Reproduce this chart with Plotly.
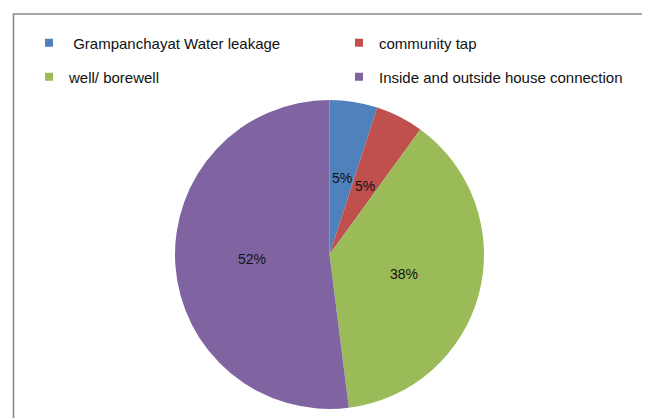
import math
import plotly.graph_objects as go

categories = [" Grampanchayat Water leakage", "community tap", "well/ borewell",
              "Inside and outside house connection"]
values = [5, 5, 38, 52]
colors = ["#4F81BD", "#C0504D", "#9BBB59", "#8064A2"]

W, H = 650, 418
OFF = 8  # page body margin offset
cx, cy, R = 329.5 - OFF, 254.5 - OFF, 154.5

fig = go.Figure()
fig.add_trace(go.Pie(
    labels=categories, values=values, sort=False, direction="clockwise",
    rotation=0, marker=dict(colors=colors, line=dict(width=0)),
    textinfo="none", hoverinfo="label+percent", showlegend=False,
    domain=dict(x=[(cx - R) / W, (cx + R) / W], y=[1 - (cy + R) / H, 1 - (cy - R) / H]),
))

# legend entries (two rows)
for i, (lab, col) in enumerate(zip(categories, colors)):
    fig.add_trace(go.Scatter(
        x=[None], y=[None], mode="markers", name=lab,
        marker=dict(symbol="square", size=8, color=col),
        legend="legend" if i < 2 else "legend2", showlegend=True, hoverinfo="skip",
    ))

# percentage labels at half radius along each slice's mid-angle
total = sum(values)
cum = 0
annotations = []
for v in values:
    mid = (cum + v / 2) / total * 2 * math.pi
    cum += v
    px = cx + 0.5 * R * math.sin(mid)
    py = cy - 0.5 * R * math.cos(mid)
    annotations.append(dict(
        x=px / W, y=1 - py / H, xref="paper", yref="paper",
        text=f"{round(v / total * 100)}%", showarrow=False,
        font=dict(family="Liberation Sans", size=14, color="#111111"),
        xanchor="center", yanchor="middle",
    ))

legend_common = dict(
    orientation="h", xanchor="left", yanchor="middle", entrywidth=265,
    font=dict(family="Liberation Sans", size=15, color="#111111"),
    bgcolor="rgba(0,0,0,0)", borderwidth=0, itemwidth=30,
)

LX = 29 - OFF
fig.update_layout(
    width=W, height=H, margin=dict(l=0, r=0, t=0, b=0),
    paper_bgcolor="white", plot_bgcolor="white",
    xaxis=dict(visible=False), yaxis=dict(visible=False),
    legend=dict(x=LX / W, y=1 - (43 - OFF) / H, **legend_common),
    legend2=dict(x=LX / W, y=1 - (77 - OFF) / H, **legend_common),
    annotations=annotations,
    shapes=[dict(type="rect", xref="paper", yref="paper",
                 x0=(13.5 - OFF) / W, x1=(645.5 - OFF) / W, y0=-0.2, y1=1 - (14 - OFF) / H,
                 line=dict(color="#898989", width=1.6), fillcolor="rgba(0,0,0,0)",
                 layer="below")],
)

fig.write_html("out.html")
